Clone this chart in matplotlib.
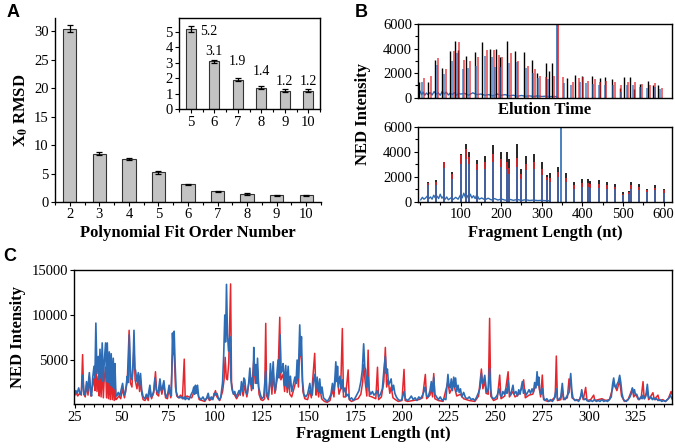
import matplotlib
matplotlib.use("Agg")
import matplotlib.pyplot as plt
from matplotlib.ticker import MultipleLocator

plt.rcParams['font.family'] = ['Liberation Serif', 'DejaVu Serif']
plt.rcParams['mathtext.fontset'] = 'stix'

# ---------------- Panel A data ----------------
orders = [2, 3, 4, 5, 6, 7, 8, 9, 10]
rmsd = [30.4, 8.5, 7.5, 5.2, 3.1, 1.9, 1.4, 1.2, 1.2]
rmsd_err = [0.6, 0.25, 0.2, 0.2, 0.12, 0.1, 0.1, 0.08, 0.08]
inset_orders = [5, 6, 7, 8, 9, 10]
inset_rmsd = [5.2, 3.1, 1.9, 1.4, 1.2, 1.2]
inset_err = [0.2, 0.1, 0.1, 0.1, 0.08, 0.08]
inset_labels = ['5.2', '3.1', '1.9', '1.4', '1.2', '1.2']

# ---------------- Panel B data ----------------
ladder = [20, 40, 60, 80, 100, 114, 120, 140, 160, 180, 200, 214, 220, 240, 250,
          260, 280, 300, 314, 320, 340, 360, 380, 400, 414, 420, 440, 460, 480,
          500, 514, 520, 540, 560, 580, 600]
lad_black = [1600, 1700, 3200, 2400, 3850, 4650, 3950, 3350, 3650, 4550, 4000, 4000,
             3450, 4650, 2600, 3650, 3850, 3150, 2150, 2300, 2800, 2300, 1600, 1850,
             1800, 1650, 1750, 1600, 1450, 750, 850, 1550, 1400, 1000, 1350, 1050]
lad_red = [1500, 1600, 3200, 2200, 3700, 4200, 3600, 3000, 3200, 3800, 3400, 3200,
           2700, 3500, 2200, 3000, 3200, 2600, 2000, 1900, 2400, 1900, 1300, 1500,
           1500, 1400, 1400, 1300, 1200, 650, 750, 1300, 1200, 900, 1100, 900]
lad_blue = [1300, 1300, 2700, 1800, 3000, 3400, 3000, 2500, 2600, 3200, 2800, 2600,
            2200, 2800, 1800, 2500, 2600, 2100, 1700, 1600, 2000, 1600, 1000, 1200,
            1200, 1100, 1100, 1000, 1000, 550, 650, 1000, 950, 750, 900, 700]
spike_x = 348.5
spike_h = 6500
bn_x = [2, 6, 10, 14, 18, 22, 26, 30, 34, 38, 42, 46, 50, 54, 58, 62, 66, 70, 76, 82,
        88, 94, 100, 104, 108, 112, 116, 120, 124, 128, 132, 136, 140, 146, 152, 160,
        168, 176, 184, 192, 200, 210, 220, 230, 240, 250, 260, 270, 280, 290, 300, 310,
        320]
bn_y = [150, 350, 200, 300, 450, 250, 380, 200, 520, 300, 450, 250, 600, 280, 420, 200,
        380, 150, 300, 180, 350, 200, 550, 300, 680, 350, 500, 250, 600, 300, 480, 250,
        550, 200, 300, 150, 280, 140, 250, 130, 220, 120, 200, 110, 180, 100, 160, 100,
        130, 90, 110, 80, 70]

# top panel (elution time, arbitrary axis units)
et_black_x = [-2, 21, 37, 55, 73, 87, 94, 113, 135, 154, 172, 188, 197, 215, 234,
              257, 277, 289, 311, 318, 326, 362, 381, 398, 424, 443, 456, 473, 493,
              502, 517, 526, 543, 562, 574, 587]
et_black_h = [1300, 1250, 3050, 2450, 3800, 4600, 3900, 3400, 3700, 4550, 4000, 4000,
              3300, 4600, 3800, 3700, 3100, 2000, 2800, 2200, 2800, 1600, 1850, 1800,
              1750, 1600, 1700, 1500, 800, 1700, 1700, 700, 1100, 1350, 1000, 1000]
et_red_x = [9, 27, 45, 63, 83, 96, 109, 123, 143, 164, 182, 194, 203, 225, 242, 265,
            283, 295, 311, 331, 352, 376, 391, 402, 414, 430, 443, 459, 480, 496, 512,
            529, 548, 566, 580, 595]
et_red_h = [1600, 1750, 3200, 2300, 3800, 4500, 3100, 3000, 3300, 3900, 3900, 3500,
            3300, 3600, 3000, 2600, 2300, 1800, 1700, 1800, 1700, 1300, 1600, 1700,
            1400, 1500, 1300, 1400, 1300, 1000, 1300, 1300, 1100, 1050, 1200, 800]
et_blue_x = [-4, 6, 41, 59, 80, 92, 105, 118, 139, 160, 178, 184, 198, 219, 238, 261,
             279, 291, 316, 356, 373, 394, 410, 426, 440, 456, 476, 494, 509, 524, 541,
             560, 578, 592]
et_blue_h = [1200, 1300, 2700, 1900, 3000, 3600, 2300, 2400, 2600, 3400, 3300, 2500,
             2500, 2800, 2900, 2400, 2000, 1600, 1500, 1200, 1000, 1300, 1200, 1100,
             1000, 1000, 1000, 500, 1000, 1000, 900, 800, 900, 700]
et_spike_red_x = 339
et_spike_blue_x = 336.5
et_spike_h = 6500
etn_x = [-4, 0, 4, 8, 12, 16, 20, 25, 30, 35, 40, 45, 50, 55, 60, 65, 70, 75, 80, 85,
         90, 95, 100, 110, 120, 130, 140, 150, 160, 170, 180, 190, 200, 210, 220, 230,
         240, 250, 260, 270, 280, 290, 300, 310, 320, 330, 338]
etn_y = [300, 550, 250, 450, 200, 380, 250, 420, 220, 500, 280, 400, 200, 520, 300, 450,
         220, 380, 250, 420, 200, 350, 300, 350, 200, 400, 250, 300, 200, 250, 150, 300,
         200, 250, 150, 200, 120, 180, 120, 150, 100, 150, 100, 120, 90, 100, 80]

# ---------------- Panel C data ----------------
c_blue_x = [24.5, 25.5, 26.2, 27, 27.8, 28.5, 29.1, 29.8, 30.5, 31.2, 31.8, 32.7, 33.4, 33.9, 34.5, 35.2, 35.7, 36.2, 36.8, 37.5, 38, 38.4, 39, 39.6, 40.2, 40.7, 41.4, 41.9, 42.3, 42.9, 43.4, 43.9, 44.4, 45, 45.5, 46, 46.4, 46.9, 47.3, 48.2, 49, 50.5, 51.3, 52, 53, 53.5, 54.1, 54.8, 55.5, 56.1, 56.6, 57.1, 57.4, 58.2, 58.9, 59.5, 60.1, 60.7, 61.5, 62.5, 63.2, 64, 65.1, 65.8, 66.5, 67.2, 67.8, 68.5, 69.5, 70.5, 71.2, 71.8, 72.6, 73.3, 74, 74.8, 75.4, 76, 76.6, 77.2, 77.6, 78.1, 78.6, 79.2, 80, 81, 82, 83, 83.5, 84, 85, 86, 87, 88, 88.6, 89.1, 89.5, 90, 90.6, 91.2, 92.5, 93.5, 94.5, 95.5, 96.3, 97, 98, 98.8, 99.5, 100.2, 101, 102, 103, 104, 104.6, 105.2, 105.6, 106.1, 106.6, 107.2, 107.9, 108.4, 109, 109.8, 110.5, 111.2, 112, 112.8, 113.5, 114.1, 114.8, 115.4, 115.9, 116.5, 117.2, 118, 118.6, 119.2, 119.8, 120.3, 120.7, 121.2, 121.8, 122.3, 122.7, 123.3, 124.2, 125, 126, 127.1, 127.6, 128.3, 129, 129.6, 130.2, 131.1, 131.6, 132.3, 133, 133.7, 134.3, 134.8, 135.3, 135.8, 136.4, 137, 137.8, 138.4, 139.1, 139.7, 140.3, 141, 141.8, 142.7, 143.3, 143.9, 144.5, 145.3, 145.8, 146.2, 146.8, 147.5, 148.5, 149.5, 150.7, 151.3, 152, 152.7, 153.3, 153.9, 154.6, 155.2, 156, 156.6, 157.2, 158, 159, 160, 161, 162, 162.8, 163.5, 164.1, 164.6, 165.2, 165.5, 166, 166.8, 167.5, 168.1, 168.7, 169.5, 170.3, 171.2, 172, 173, 174, 175, 176, 177, 178, 178.8, 179.5, 180.1, 180.6, 181.2, 181.9, 182.5, 183.3, 184.2, 185, 186, 186.9, 187.5, 188.5, 189.5, 190.3, 191.1, 191.6, 192.2, 192.8, 193.5, 194.2, 194.8, 195.5, 196.2, 197, 198, 199, 200, 201.1, 201.8, 203, 204, 205, 206, 207, 208, 209, 210, 211, 212, 212.5, 213.2, 214, 215, 215.7, 216.3, 217, 217.6, 218.5, 219.5, 220.5, 221.5, 222.5, 223.5, 224.6, 225.2, 225.8, 226.4, 227, 227.7, 228.2, 228.7, 229.3, 230, 230.6, 231.3, 232, 233, 234, 235, 236, 237, 238, 239, 240, 241, 241.8, 242.5, 243.1, 243.7, 244.3, 244.9, 245.5, 246.2, 246.9, 247.5, 248, 249, 250, 251, 252, 252.6, 253.3, 254, 254.8, 255.6, 256.2, 256.8, 257.4, 258, 258.7, 259.4, 260, 261, 261.8, 262.5, 263.2, 264.4, 265, 265.7, 266.4, 267, 268, 268.8, 269.6, 270.3, 271, 271.7, 272.3, 272.8, 273.2, 273.8, 274.5, 275.1, 275.8, 276.5, 277.5, 278.5, 279.5, 280.5, 281.5, 282.6, 283.2, 284, 285, 285.8, 286.4, 287.2, 288, 289.4, 290.3, 290.9, 291.5, 292.5, 293.5, 294.5, 295.5, 296.2, 296.8, 297.5, 298.3, 299, 300, 301, 302, 303, 304, 305, 306, 307, 308, 309, 310, 311, 312, 312.7, 313.3, 313.9, 314.5, 315.1, 315.8, 316.5, 317.1, 317.7, 318.4, 319, 320, 321, 322, 322.6, 323.3, 323.9, 324.4, 325, 325.6, 326.3, 327, 327.8, 328.5, 329, 329.8, 330.5, 331.3, 331.9, 332.5, 333.2, 334, 334.6, 335.5, 336.3, 337, 338, 339, 340, 341, 342, 343, 343.6, 344.5]
c_blue_y = [1000, 1600, 1300, 1900, 1200, 1500, 3300, 1400, 1100, 2600, 1500, 3600, 1500, 1000, 3000, 4300, 3000, 9100, 3500, 5400, 2800, 6200, 3000, 6900, 2600, 4800, 6900, 2600, 6900, 2500, 5900, 2200, 5700, 2000, 5200, 1800, 4600, 1200, 1000, 1400, 1000, 2400, 1100, 1400, 3200, 2500, 7800, 3200, 2800, 4600, 8300, 4000, 3900, 2600, 3600, 2200, 3500, 1700, 900, 700, 1200, 800, 2200, 900, 1100, 1600, 3000, 1700, 1300, 2900, 1600, 1900, 2700, 1200, 900, 1400, 2200, 1300, 1000, 8000, 6000, 8200, 4500, 1500, 900, 800, 900, 700, 900, 600, 800, 600, 1100, 1500, 2000, 1200, 2200, 1300, 2200, 900, 600, 900, 500, 800, 1300, 600, 900, 600, 1300, 1100, 1300, 600, 800, 2500, 5500, 10000, 7000, 13400, 8000, 6000, 7600, 3000, 1800, 1200, 1500, 900, 1200, 1600, 1100, 2600, 1500, 3000, 2800, 1400, 1200, 2500, 4100, 2300, 3000, 1800, 6400, 3300, 4500, 2400, 5200, 2000, 1200, 700, 900, 3800, 1500, 800, 1800, 4600, 2000, 4800, 2300, 1600, 3300, 5000, 3000, 7800, 3600, 3800, 4600, 2200, 4400, 2000, 4300, 1800, 3200, 1500, 2200, 3100, 2400, 5000, 3000, 8900, 5500, 7600, 2600, 1200, 900, 1200, 2400, 1300, 1100, 2800, 3400, 1800, 3100, 1500, 2900, 1300, 2000, 800, 600, 400, 700, 1200, 2400, 1500, 2900, 4800, 2600, 4300, 2000, 3200, 1800, 2800, 1400, 1900, 1000, 1200, 600, 800, 500, 800, 1200, 1600, 2600, 3900, 6800, 4200, 3900, 2000, 3100, 1600, 1200, 1500, 1100, 1300, 1600, 900, 1200, 1800, 3800, 5400, 3500, 4000, 2300, 2500, 2900, 1600, 2200, 1300, 900, 600, 500, 600, 1500, 700, 500, 700, 1000, 600, 800, 500, 900, 700, 1100, 1600, 2000, 1000, 900, 1600, 2600, 1500, 3100, 1200, 900, 600, 900, 500, 700, 600, 3400, 2100, 1900, 2900, 1600, 3100, 2000, 3000, 1500, 2200, 1400, 1800, 900, 1400, 800, 700, 900, 600, 700, 500, 900, 1400, 1900, 3500, 2400, 2700, 3300, 2100, 1400, 1800, 4100, 1800, 900, 700, 800, 1100, 1800, 1100, 900, 1500, 1200, 1800, 1300, 2700, 1500, 1100, 1600, 2200, 1200, 1500, 1000, 1700, 1200, 2600, 1300, 1700, 1100, 1300, 1700, 1300, 1800, 1400, 2500, 1900, 3700, 2200, 3100, 1500, 1200, 1800, 800, 500, 700, 400, 600, 400, 700, 1800, 700, 600, 900, 2400, 900, 600, 900, 1400, 3500, 1600, 800, 500, 600, 400, 800, 1700, 900, 600, 700, 500, 400, 500, 400, 600, 400, 500, 400, 600, 400, 500, 400, 600, 900, 2300, 3000, 2100, 1900, 2300, 2600, 3300, 2500, 1300, 700, 500, 400, 600, 900, 1200, 1900, 1300, 1700, 1100, 1200, 800, 600, 900, 700, 1100, 700, 1000, 2300, 1000, 700, 900, 600, 800, 600, 700, 500, 600, 400, 500, 400, 600, 800, 1100, 700]
c_red_x = [24.5, 25.5, 26.5, 27.5, 28.4, 29.1, 29.7, 30.5, 31.2, 32, 32.7, 33.5, 34.2, 35.2, 35.7, 36.2, 36.8, 37.5, 38, 38.4, 39, 39.6, 40.2, 40.7, 41.4, 41.9, 42.3, 42.9, 43.4, 43.9, 44.4, 45, 45.5, 46, 46.4, 46.9, 47.5, 48.5, 49.5, 50.5, 51.5, 53, 54, 54.6, 55.5, 56.6, 57.2, 58.2, 58.9, 59.6, 60.1, 60.8, 61.5, 62.5, 63.5, 64.2, 65.1, 66, 67.2, 68.1, 68.8, 69.8, 70.5, 71.5, 72.6, 73.5, 74.5, 75.4, 76.3, 77.2, 78.1, 78.8, 79.5, 80.5, 81.5, 82.5, 83.5, 84, 85, 86, 87.5, 88.6, 89.5, 90.6, 91.5, 93, 94.5, 96, 97, 99, 100.2, 101, 102.5, 104, 104.8, 105.4, 106, 106.6, 107.3, 108.3, 108.8, 109.5, 110.5, 111.5, 112.8, 114.1, 115, 115.9, 117, 118.6, 119.5, 120.7, 121.5, 122.7, 123.5, 124.5, 125.5, 126.5, 127.1, 127.6, 128.5, 129.6, 130.4, 131.1, 132, 133.7, 134.6, 135.2, 136.4, 137.2, 137.8, 138.6, 139.1, 140, 141, 142.7, 143.9, 144.6, 145.3, 146.2, 147, 148, 149.5, 150.7, 151.5, 153.3, 154, 154.6, 155.4, 156, 157, 158.5, 160, 161.5, 162.8, 163.6, 164.6, 165.5, 166.3, 167.2, 168.1, 168.7, 169.8, 171.2, 171.8, 173, 175, 176.5, 178, 179, 179.5, 180.3, 181.2, 181.9, 182.5, 184, 186, 186.9, 187.5, 189, 190.3, 191.1, 191.8, 192.6, 193.5, 194.2, 195.2, 196.5, 198, 200, 201.1, 201.7, 203, 206, 209, 211, 212.5, 213.2, 215, 215.7, 216.4, 217, 217.6, 219.5, 222, 224.6, 225.5, 227.7, 229.3, 231.3, 233, 236, 239, 241, 242.5, 243.3, 244.3, 245, 246.2, 246.9, 247.5, 249, 251, 252.3, 253, 255, 256.8, 257.5, 259.4, 260.5, 262.5, 264.4, 265.1, 266, 268, 270, 272.3, 273.2, 274.2, 275.1, 275.8, 278, 280, 282, 282.6, 283.2, 285, 285.8, 286.4, 288.5, 289.4, 290.3, 291, 293, 295, 296.2, 297, 298.3, 299, 301, 302.6, 303.2, 305, 307, 309, 311, 312.7, 313.3, 315, 316.5, 317.5, 319, 321, 323.3, 324, 325, 326.5, 328, 329, 329.6, 331.3, 332, 334.3, 335, 337, 337.7, 339.5, 341, 342.5, 344, 344.5]
c_red_y = [900, 1400, 1000, 1300, 1100, 5600, 1200, 900, 2200, 1100, 3200, 1000, 1800, 3000, 1600, 5200, 1500, 3200, 1000, 3800, 900, 4200, 800, 3000, 4200, 800, 4000, 700, 3500, 600, 3300, 600, 3000, 500, 2800, 600, 700, 1000, 700, 1800, 800, 2600, 8300, 2500, 2000, 6500, 2800, 1800, 3000, 1500, 2800, 1200, 600, 500, 900, 500, 1800, 700, 1400, 3700, 1200, 1000, 2500, 1200, 2300, 800, 700, 1800, 800, 5500, 6000, 2000, 1000, 800, 1100, 700, 5100, 800, 1000, 900, 800, 1400, 1600, 1500, 600, 500, 400, 900, 500, 800, 1600, 900, 500, 1500, 2800, 5300, 3000, 2800, 4700, 13450, 2500, 1400, 1100, 700, 1200, 2000, 1000, 2200, 900, 3200, 1600, 5000, 2400, 4000, 1200, 600, 500, 700, 9070, 1000, 600, 3500, 1200, 3600, 1300, 3500, 9750, 2800, 3400, 1500, 3200, 1400, 3000, 1200, 900, 2200, 3500, 2000, 6500, 5000, 1500, 700, 600, 1600, 800, 5740, 1100, 2200, 900, 2000, 700, 400, 300, 500, 1700, 900, 3500, 3000, 1200, 1800, 8500, 900, 900, 3900, 600, 400, 600, 700, 1200, 2600, 4500, 2600, 1000, 6100, 1000, 900, 700, 4200, 600, 900, 2600, 6400, 2000, 2800, 1300, 2000, 800, 600, 400, 500, 3960, 500, 400, 500, 600, 800, 3400, 700, 1100, 1800, 900, 3500, 700, 500, 400, 2600, 1300, 2300, 1000, 1200, 700, 500, 400, 1000, 4000, 1800, 2700, 1300, 1200, 9630, 1000, 500, 700, 3330, 700, 1000, 3700, 900, 1500, 900, 1200, 2000, 2800, 800, 1100, 1200, 2600, 2200, 900, 3330, 600, 400, 500, 900, 5440, 500, 600, 1800, 600, 800, 2900, 2700, 800, 500, 600, 1300, 600, 1960, 500, 600, 1100, 500, 600, 700, 500, 600, 1800, 2500, 1600, 2700, 1000, 400, 600, 1850, 900, 1200, 600, 800, 2600, 700, 1500, 600, 1370, 600, 1100, 500, 600, 400, 700, 1500, 1200]

RED = '#e4262d'
BLUE = '#2d6cb5'
BAR = '#c3c3c3'

fig = plt.figure(figsize=(6.75, 4.48), dpi=100)
W, H = 675.0, 448.0


def ax_px(left, top, right, bottom):
    return fig.add_axes([left / W, 1 - bottom / H, (right - left) / W, (bottom - top) / H])


tick_fs = 10.5
lab_fs = 12

# ---------------- Panel A ----------------
axA = ax_px(55, 18, 321, 202)
axA.bar(orders, rmsd, width=0.45, color=BAR, edgecolor='#333333', linewidth=0.8,
        yerr=rmsd_err, error_kw=dict(ecolor='black', elinewidth=0.9, capsize=2, capthick=0.9))
axA.set_xlim(1.5, 10.5)
axA.set_ylim(0, 32.3)
axA.set_xticks(orders)
axA.set_yticks([0, 5, 10, 15, 20, 25, 30])
axA.xaxis.set_minor_locator(MultipleLocator(0.5))
axA.spines['top'].set_visible(False)
axA.spines['right'].set_visible(False)
axA.tick_params(labelsize=tick_fs, direction='out', length=3, width=0.8, pad=1.5)
axA.tick_params(which='minor', length=2, width=0.8)
axA.set_xlabel('Polynomial Fit Order Number', fontsize=lab_fs, fontweight='bold', labelpad=3)
axA.set_ylabel(r'X$_\mathbf{0}$ RMSD', fontsize=lab_fs, fontweight='bold', labelpad=3)

axI = ax_px(179, 18, 320, 109.3)
axI.bar(inset_orders, inset_rmsd, width=0.42, color=BAR, edgecolor='#333333', linewidth=0.8,
        yerr=inset_err, error_kw=dict(ecolor='black', elinewidth=0.9, capsize=2, capthick=0.9))
axI.set_xlim(4.5, 10.5)
axI.set_ylim(0, 5.9)
axI.set_xticks(inset_orders)
axI.set_yticks([0, 1, 2, 3, 4, 5])
axI.xaxis.set_minor_locator(MultipleLocator(0.5))
axI.tick_params(labelsize=tick_fs, direction='out', length=3, width=0.8, pad=1.5)
axI.tick_params(which='minor', length=2, width=0.8)
label_y = [5.05, 3.72, 3.07, 2.43, 1.78, 1.78]
for i, (xo, lab) in enumerate(zip(inset_orders, inset_labels)):
    if i == 0:
        axI.text(xo + 0.38, label_y[i], lab, ha='left', va='center', fontsize=10)
    else:
        axI.text(xo, label_y[i], lab, ha='center', va='center', fontsize=10)

# ---------------- Panel B ----------------
xlimB = (-4, 620)
axBt = ax_px(418.3, 24, 671.7, 97.7)
axBt.plot(etn_x, etn_y, color=BLUE, lw=1.0)
axBt.vlines(et_black_x, 0, et_black_h, color='black', lw=1.0)
axBt.vlines(et_red_x, 0, et_red_h, color=RED, lw=1.1, alpha=0.85)
axBt.vlines(et_blue_x, 0, et_blue_h, color=BLUE, lw=1.1, alpha=0.85)
axBt.vlines([et_spike_blue_x], 0, et_spike_h, color=BLUE, lw=1.2)
axBt.vlines([et_spike_red_x], 0, et_spike_h, color=RED, lw=1.2)
axBt.set_xlim(*xlimB)
axBt.set_ylim(0, 6000)
axBt.set_xticks([])
axBt.set_yticks([0, 2000, 4000, 6000])
axBt.yaxis.set_minor_locator(MultipleLocator(1000))
axBt.tick_params(labelsize=tick_fs, direction='out', length=3, width=0.8, pad=1.5)
axBt.tick_params(which='minor', length=2, width=0.8)
axBt.set_xlabel('Elution Time', fontsize=lab_fs, fontweight='bold', labelpad=3)

axBb = ax_px(418.3, 126.7, 671.7, 201.7)
axBb.plot(bn_x, bn_y, color=BLUE, lw=1.0)
axBb.vlines(ladder, 0, lad_black, color='black', lw=1.2)
axBb.vlines(ladder, 0, lad_red, color=RED, lw=1.2)
axBb.vlines(ladder, 0, lad_blue, color=BLUE, lw=1.2)
axBb.vlines([spike_x], 0, spike_h, color=BLUE, lw=1.2)
axBb.set_xlim(*xlimB)
axBb.set_ylim(0, 6000)
axBb.set_xticks([100, 200, 300, 400, 500, 600])
axBb.xaxis.set_minor_locator(MultipleLocator(50))
axBb.set_yticks([0, 2000, 4000, 6000])
axBb.yaxis.set_minor_locator(MultipleLocator(1000))
axBb.tick_params(labelsize=tick_fs, direction='out', length=3, width=0.8, pad=1.5)
axBb.tick_params(which='minor', length=2, width=0.8)
axBb.set_xlabel('Fragment Length (nt)', fontsize=lab_fs, fontweight='bold', labelpad=3)
fig.text(363 / W, 1 - 114 / H, 'NED Intensity', rotation=90, ha='center', va='center',
         fontsize=lab_fs, fontweight='bold')

# ---------------- Panel C ----------------
axC = ax_px(74, 270, 672, 404.3)
axC.plot(c_red_x, c_red_y, color=RED, lw=1.1)
axC.plot(c_blue_x, c_blue_y, color=BLUE, lw=1.2)
axC.set_xlim(24.5, 344.5)
axC.set_ylim(80, 15000)
axC.set_xticks(list(range(25, 326, 25)))
axC.xaxis.set_minor_locator(MultipleLocator(5))
axC.set_yticks([5000, 10000, 15000])
axC.tick_params(labelsize=tick_fs, direction='out', length=3, width=0.8, pad=1.5)
axC.tick_params(which='minor', length=2, width=0.8)
axC.set_xlabel('Fragment Length (nt)', fontsize=lab_fs, fontweight='bold', labelpad=2)
axC.set_ylabel('NED Intensity', fontsize=lab_fs, fontweight='bold', labelpad=4)

for ax in (axA, axI, axBt, axBb, axC):
    for s in ax.spines.values():
        s.set_linewidth(1.0)

# panel letters
for (px, py, t) in [(7, 4, 'A'), (355, 4, 'B'), (3, 248, 'C')]:
    fig.text(px / W, 1 - py / H, t, ha='left', va='top', fontsize=13, fontweight='bold',
             family=['Liberation Sans', 'DejaVu Sans'])

fig.savefig('out.png', dpi=100)
